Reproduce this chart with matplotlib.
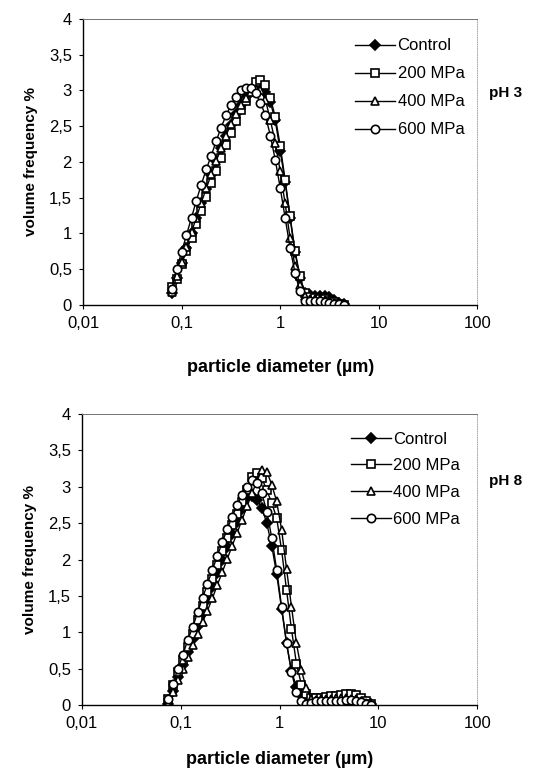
import matplotlib
matplotlib.use("Agg")
import matplotlib.pyplot as plt

plt.rcParams['font.family'] = ['Liberation Sans', 'DejaVu Sans']

# particle diameter bins (um)
x_ph3 = [0.0794, 0.0891, 0.1, 0.112, 0.126, 0.141, 0.158, 0.178, 0.2, 0.224,
         0.251, 0.282, 0.316, 0.355, 0.398, 0.447, 0.501, 0.562, 0.631, 0.708,
         0.794, 0.891, 1.0, 1.122, 1.259, 1.413, 1.585, 1.778, 1.995, 2.239,
         2.512, 2.818, 3.162, 3.548, 3.981, 4.467]
x_ph8 = [0.0741, 0.0832, 0.0933, 0.105, 0.117, 0.132, 0.148, 0.166, 0.186, 0.209,
         0.234, 0.263, 0.295, 0.331, 0.372, 0.417, 0.468, 0.525, 0.589, 0.661,
         0.741, 0.832, 0.933, 1.047, 1.175, 1.318, 1.479, 1.660, 1.862, 2.089,
         2.344, 2.630, 2.951, 3.311, 3.715, 4.169, 4.677, 5.248, 5.888, 6.607,
         7.413, 8.318]

# pH 3
control_ph3 = [0.17, 0.38, 0.58, 0.79, 1.00, 1.21, 1.42, 1.62, 1.82, 2.01,
               2.19, 2.36, 2.52, 2.67, 2.80, 2.91, 2.99, 3.04, 3.04, 2.98,
               2.84, 2.58, 2.16, 1.72, 1.22, 0.74, 0.38, 0.17, 0.14, 0.13,
               0.13, 0.13, 0.11, 0.07, 0.03, 0.01]
mpa200_ph3 = [0.25, 0.37, 0.57, 0.76, 0.94, 1.13, 1.32, 1.51, 1.70, 1.88,
              2.06, 2.24, 2.41, 2.57, 2.72, 2.85, 2.98, 3.12, 3.14, 3.08,
              2.90, 2.63, 2.23, 1.75, 1.24, 0.76, 0.40, 0.17, 0.11, 0.10,
              0.09, 0.08, 0.06, 0.04, 0.02, 0.0]
mpa400_ph3 = [0.18, 0.40, 0.60, 0.81, 1.02, 1.22, 1.43, 1.63, 1.83, 2.01,
              2.19, 2.37, 2.53, 2.67, 2.80, 2.90, 2.98, 3.02, 3.00, 2.87,
              2.59, 2.27, 1.87, 1.42, 0.94, 0.54, 0.28, 0.12, 0.09, 0.08,
              0.08, 0.07, 0.05, 0.03, 0.01, 0.0]
mpa600_ph3 = [0.22, 0.50, 0.74, 0.98, 1.22, 1.46, 1.68, 1.90, 2.09, 2.29,
              2.48, 2.65, 2.79, 2.91, 3.00, 3.03, 3.03, 2.96, 2.83, 2.65,
              2.37, 2.03, 1.64, 1.22, 0.80, 0.45, 0.19, 0.05, 0.05, 0.05,
              0.05, 0.04, 0.03, 0.02, 0.01, 0.0]

# pH 8
control_ph8 = [0.02, 0.20, 0.38, 0.55, 0.73, 0.91, 1.09, 1.27, 1.45, 1.63,
               1.81, 1.99, 2.17, 2.35, 2.52, 2.70, 2.86, 2.88, 2.82, 2.71,
               2.50, 2.19, 1.80, 1.32, 0.85, 0.47, 0.25, 0.14, 0.06, 0.01,
               0.03, 0.06, 0.08, 0.09, 0.10, 0.10, 0.10, 0.09, 0.08, 0.06,
               0.04, 0.02]
mpa200_ph8 = [0.09, 0.27, 0.45, 0.62, 0.80, 0.98, 1.17, 1.36, 1.55, 1.74,
              1.93, 2.12, 2.30, 2.47, 2.63, 2.79, 2.95, 3.14, 3.19, 3.12,
              2.95, 2.78, 2.57, 2.13, 1.58, 1.04, 0.57, 0.28, 0.15, 0.10,
              0.10, 0.10, 0.11, 0.12, 0.13, 0.14, 0.15, 0.15, 0.14, 0.10,
              0.05, 0.01]
mpa400_ph8 = [0.02, 0.18, 0.35, 0.50, 0.66, 0.82, 0.98, 1.14, 1.30, 1.47,
              1.65, 1.83, 2.01, 2.19, 2.37, 2.55, 2.73, 2.91, 3.08, 3.23,
              3.21, 3.03, 2.80, 2.41, 1.87, 1.35, 0.85, 0.48, 0.23, 0.09,
              0.07, 0.08, 0.09, 0.09, 0.10, 0.10, 0.10, 0.09, 0.08, 0.06,
              0.03, 0.01]
mpa600_ph8 = [0.09, 0.29, 0.50, 0.69, 0.89, 1.07, 1.28, 1.47, 1.67, 1.86,
              2.05, 2.24, 2.42, 2.59, 2.75, 2.89, 3.00, 3.10, 3.05, 2.91,
              2.66, 2.30, 1.86, 1.35, 0.85, 0.45, 0.18, 0.05, 0.02, 0.03,
              0.05, 0.06, 0.06, 0.06, 0.06, 0.06, 0.07, 0.07, 0.06, 0.04,
              0.02, 0.0]

labels = ['Control', '200 MPa', '400 MPa', '600 MPa']
markers = ['D', 's', '^', 'o']
facecolors = ['black', 'white', 'white', 'white']
msizes = [5, 6, 6, 6]

xticks = [0.01, 0.1, 1, 10, 100]
xticklabels = ['0,01', '0,1', '1', '10', '100']
yticks = [0, 0.5, 1, 1.5, 2, 2.5, 3, 3.5, 4]
yticklabels = ['0', '0,5', '1', '1,5', '2', '2,5', '3', '3,5', '4']

fig = plt.figure(figsize=(5.43, 7.74), dpi=100)
ax1 = fig.add_axes([0.153, 0.606, 0.726, 0.3695])
ax2 = fig.add_axes([0.151, 0.089, 0.728, 0.376])

panels = [
    (ax1, x_ph3, [control_ph3, mpa200_ph3, mpa400_ph3, mpa600_ph3], 'pH 3', 0.74, (0.69, 0.932), 0.78, 20),
    (ax2, x_ph8, [control_ph8, mpa200_ph8, mpa400_ph8, mpa600_ph8], 'pH 8', 0.77, (0.68, 0.94), 0.7, 14),
]

for ax, x, series, ph, ph_y, leg_pos, spacing, xpad in panels:
    for y, lab, m, fc, ms in zip(series, labels, markers, facecolors, msizes):
        ax.plot(x, y, color='black', linewidth=1.0, marker=m, markersize=ms,
                markerfacecolor=fc, markeredgecolor='black', markeredgewidth=1.2,
                label=lab)
    ax.set_xscale('log')
    ax.set_xlim(0.01, 100)
    ax.set_ylim(0, 4)
    ax.set_xticks(xticks)
    ax.set_xticklabels(xticklabels, fontsize=12)
    ax.minorticks_off()
    ax.set_yticks(yticks)
    ax.set_yticklabels(yticklabels, fontsize=12)
    ax.tick_params(direction='out', length=3, width=0.8, pad=5)
    ax.set_xlabel('particle diameter (µm)', fontsize=13, fontweight='bold', labelpad=xpad)
    ax.set_ylabel('volume frequency %', fontsize=11, fontweight='bold', labelpad=8)
    for s in ['left', 'bottom']:
        ax.spines[s].set_linewidth(1.0)
    ax.spines['top'].set_color('0.45')
    ax.spines['top'].set_linewidth(0.7)
    ax.spines['right'].set_color('0.6')
    ax.spines['right'].set_linewidth(0.6)
    ax.spines['right'].set_linestyle(':')
    ax.legend(loc='upper left', bbox_to_anchor=leg_pos, frameon=False,
              fontsize=12, handlelength=2.4, handletextpad=0.15,
              labelspacing=spacing, borderpad=0, borderaxespad=0)
    ax.text(1.03, ph_y, ph, transform=ax.transAxes, fontsize=11,
            fontweight='bold', va='center', ha='left')

fig.savefig('out.png', dpi=100)
